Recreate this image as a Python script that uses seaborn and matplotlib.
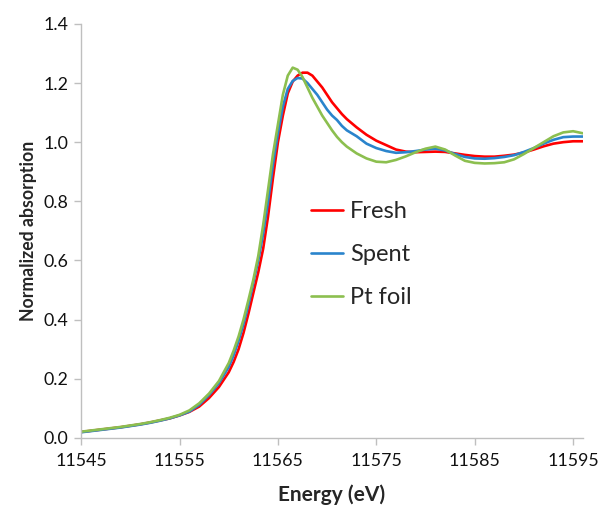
import matplotlib
matplotlib.use("Agg")
import matplotlib.pyplot as plt
import seaborn as sns
import pandas as pd

energy = [11545, 11546, 11547, 11548, 11549, 11550, 11551, 11552, 11553, 11554, 11555, 11556,
          11557, 11558, 11559, 11560,
          11560.5, 11561, 11561.5, 11562, 11562.5, 11563, 11563.5, 11564, 11564.5, 11565, 11565.5, 11566,
          11566.5, 11567, 11567.5, 11568, 11568.5, 11569, 11569.5, 11570, 11570.5, 11571, 11571.5, 11572,
          11573, 11574, 11575, 11576, 11577, 11578, 11579, 11580, 11581, 11582, 11583, 11584,
          11585, 11586, 11587, 11588, 11589, 11590, 11591, 11592, 11593, 11594, 11595, 11596]

fresh = [0.020, 0.024, 0.028, 0.032, 0.036, 0.041, 0.046, 0.052, 0.059, 0.066, 0.076, 0.088,
         0.106, 0.135, 0.172, 0.222,
         0.257, 0.300, 0.355, 0.420, 0.490, 0.560, 0.640, 0.750, 0.880, 1.000, 1.090, 1.165,
         1.205, 1.225, 1.235, 1.235, 1.225, 1.205, 1.185, 1.160, 1.135, 1.115, 1.095, 1.078,
         1.050, 1.025, 1.005, 0.990, 0.975, 0.968, 0.966, 0.967, 0.968, 0.967, 0.962, 0.957,
         0.953, 0.951, 0.951, 0.954, 0.958, 0.965, 0.975, 0.986, 0.995, 1.000, 1.003, 1.003]

spent = [0.019, 0.023, 0.027, 0.031, 0.035, 0.040, 0.045, 0.051, 0.058, 0.066, 0.076, 0.089,
         0.112, 0.145, 0.185, 0.240,
         0.280, 0.328, 0.385, 0.450, 0.525, 0.600, 0.690, 0.800, 0.925, 1.030, 1.120, 1.180,
         1.207, 1.217, 1.215, 1.200, 1.180, 1.160, 1.135, 1.110, 1.090, 1.075, 1.055, 1.040,
         1.020, 0.995, 0.980, 0.970, 0.964, 0.966, 0.970, 0.975, 0.978, 0.972, 0.960, 0.950,
         0.945, 0.944, 0.946, 0.950, 0.956, 0.967, 0.980, 0.995, 1.008, 1.017, 1.019, 1.019]

pt_foil = [0.021, 0.025, 0.029, 0.033, 0.037, 0.042, 0.047, 0.053, 0.060, 0.068, 0.078, 0.093,
           0.117, 0.150, 0.192, 0.253,
           0.295, 0.343, 0.400, 0.466, 0.535, 0.615, 0.720, 0.840, 0.960, 1.060, 1.160, 1.225,
           1.252, 1.245, 1.220, 1.185, 1.150, 1.120, 1.090, 1.065, 1.040, 1.018, 1.000, 0.985,
           0.962, 0.945, 0.934, 0.932, 0.940, 0.952, 0.966, 0.978, 0.985, 0.975, 0.955, 0.937,
           0.930, 0.928, 0.929, 0.932, 0.942, 0.960, 0.980, 1.000, 1.020, 1.033, 1.037, 1.030]

series_names = ["Fresh", "Spent", "Pt foil"]
series_colors = ["#FF0000", "#2A84CC", "#8CBF4F"]
x_ticks = [11545, 11555, 11565, 11575, 11585, 11595]
y_ticks = [0.0, 0.2, 0.4, 0.6, 0.8, 1.0, 1.2, 1.4]

df = pd.concat([
    pd.DataFrame({"Energy": energy, "Absorption": vals, "Sample": name})
    for name, vals in zip(series_names, [fresh, spent, pt_foil])
], ignore_index=True)

sns.set_theme(style="white")
plt.rcParams["font.family"] = ["Lato", "DejaVu Sans"]

fig = plt.figure(figsize=(6.01, 5.08), dpi=100)
ax = fig.add_axes([0.135, 0.138, 0.835, 0.815])

sns.lineplot(data=df, x="Energy", y="Absorption", hue="Sample",
             hue_order=series_names, palette=dict(zip(series_names, series_colors)),
             linewidth=1.9, ax=ax, sort=False)

ax.set_xlim(11545, 11596)
ax.set_ylim(0, 1.4)
ax.set_xticks(x_ticks)
ax.set_xticklabels([str(t) for t in x_ticks])
ax.set_yticks(y_ticks)
ax.set_yticklabels([f"{t:.1f}" for t in y_ticks])

for s in ["top", "right"]:
    ax.spines[s].set_visible(False)
for s in ["left", "bottom"]:
    ax.spines[s].set_color("#BFBFBF")
    ax.spines[s].set_linewidth(1.0)
ax.tick_params(axis="both", direction="out", length=5, width=1.0, color="#BFBFBF",
               labelsize=12.8, labelcolor="#111111", pad=4)
ax.tick_params(axis="x", pad=6)
ax.tick_params(left=True, bottom=True)

ax.set_xlabel("Energy (eV)", fontsize=15, fontweight="bold", labelpad=11)
ax.set_ylabel("Normalized absorption", fontsize=12.7, fontweight="bold", labelpad=5)

handles, labels = ax.get_legend_handles_labels()
ax.legend(handles, labels, frameon=False, loc="upper left",
          bbox_to_anchor=(0.502, 0.622), bbox_transform=fig.transFigure,
          fontsize=17, handlelength=1.36, handletextpad=0.3, labelspacing=0.92,
          borderaxespad=0)

fig.savefig("out.png", dpi=100, facecolor="white")
